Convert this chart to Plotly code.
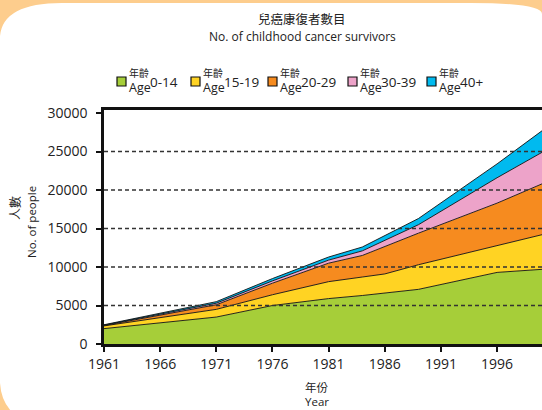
import plotly.graph_objects as go

# ---------------- data ----------------
years = [1961, 1971, 1976, 1981, 1984, 1986, 1989, 1996, 2000]
age_0_14 = [2000, 3500, 5000, 5900, 6300, 6600, 7100, 9300, 9700]
age_15_19 = [350, 1000, 1400, 2200, 2400, 2500, 3200, 3500, 4500]
age_20_29 = [50, 600, 1500, 2400, 2800, 3600, 4100, 5500, 6600]
age_30_39 = [50, 200, 300, 400, 600, 800, 1100, 3300, 4100]
age_40_plus = [50, 200, 300, 400, 500, 600, 800, 1800, 2800]

series_ranges = ["0-14", "15-19", "20-29", "30-39", "40+"]
series_values = [age_0_14, age_15_19, age_20_29, age_30_39, age_40_plus]
series_colors = ["#A6CE39", "#FFD323", "#F68B1F", "#EDA3C9", "#00BAEF"]

x_ticks = [1961, 1966, 1971, 1976, 1981, 1986, 1991, 1996]
y_ticks = [0, 5000, 10000, 15000, 20000, 25000, 30000]
y_tick_labels = ["0", "5000", "10000", "15000", "20000", "25000", "30000"]
grid_values = [5000, 10000, 15000, 20000, 25000]

title_zh = "兒癌康復者數目"
title_en = "No. of childhood cancer survivors"
legend_zh = "年齡"
legend_en = "Age"
xtitle_zh, xtitle_en = "年份", "Year"
ytitle_zh, ytitle_en = "人數", "No. of people"

# ---------------- layout geometry (pixels) ----------------
W, H = 542, 410
ML, MR, MT, MB = 104, 0, 110, 66
PW, PH = W - ML - MR, H - MT - MB

def px(x):
    return (x - ML) / PW

def py(y):
    return (H - MB - y) / PH

FONT = "Open Sans, Noto Sans CJK TC, sans-serif"
CJK = "Noto Sans CJK TC, sans-serif"
PEACH = "#FDCD8D"

fig = go.Figure()
for name, vals, col in zip(series_ranges, series_values, series_colors):
    fig.add_trace(go.Scatter(
        x=years, y=vals, name=name, mode="lines",
        stackgroup="one", fillcolor=col,
        line=dict(color="#111111", width=0.9),
        showlegend=False, hoverinfo="skip",
    ))

shapes = []
# white rounded card over peach background
p = lambda x, y: f"{px(x):.5f},{py(y):.5f}"
card = (f"M{p(0,36)} Q{p(3,3)} {p(62,3)} L{p(470,3)} Q{p(542,3)} {p(542,14)} "
        f"L{p(543,411)} L{p(11,411)} Q{p(1,400)} {p(0,383)} Z")
shapes.append(dict(type="path", path=card, xref="paper", yref="paper",
                   fillcolor="white", line=dict(width=0), layer="below"))
# dashed gridlines drawn above the areas
for g in grid_values:
    shapes.append(dict(type="line", xref="paper", yref="y", x0=0, x1=1, y0=g, y1=g,
                       line=dict(color="#333333", width=1.4, dash="4px,3px"), layer="above"))

annotations = [
    dict(text=title_zh, x=px(302), y=py(18), xref="paper", yref="paper", showarrow=False,
         font=dict(family=CJK, size=12.5, color="#222"), xanchor="center", yanchor="middle"),
    dict(text=title_en, x=px(302), y=py(36), xref="paper", yref="paper", showarrow=False,
         font=dict(family=FONT, size=12, color="#222"), xanchor="center", yanchor="middle"),
    dict(text=xtitle_zh, x=px(317), y=py(387), xref="paper", yref="paper", showarrow=False,
         font=dict(family=CJK, size=11.5, color="#222"), xanchor="center", yanchor="middle"),
    dict(text=xtitle_en, x=px(317), y=py(401.5), xref="paper", yref="paper", showarrow=False,
         font=dict(family=FONT, size=11.5, color="#222"), xanchor="center", yanchor="middle"),
    dict(text=ytitle_zh, x=px(14), y=py(208), xref="paper", yref="paper", showarrow=False,
         textangle=-90, font=dict(family=CJK, size=12, color="#222"), xanchor="center", yanchor="middle"),
    dict(text=ytitle_en, x=px(31), y=py(222), xref="paper", yref="paper", showarrow=False,
         textangle=-90, font=dict(family=FONT, size=11.5, color="#222"), xanchor="center", yanchor="middle"),
]

# custom legend
legend_x = [117, 191, 268, 348, 427]
for lx, name, col in zip(legend_x, series_ranges, series_colors):
    shapes.append(dict(type="rect", xref="paper", yref="paper",
                       x0=px(lx), x1=px(lx + 9), y0=py(86), y1=py(77),
                       fillcolor=col, line=dict(color="#111", width=1.2)))
    annotations.append(dict(text=legend_zh, x=px(lx + 10), y=py(73), xref="paper", yref="paper",
                            showarrow=False, xanchor="left", yanchor="middle",
                            font=dict(family=CJK, size=10, color="#222")))
    annotations.append(dict(text=legend_en, x=px(lx + 10), y=py(88), xref="paper", yref="paper",
                            showarrow=False, xanchor="left", yanchor="middle",
                            font=dict(family=FONT, size=12.5, color="#222")))
    annotations.append(dict(text=name, x=px(lx + 31), y=py(82), xref="paper", yref="paper",
                            showarrow=False, xanchor="left", yanchor="middle",
                            font=dict(family=FONT, size=13.5, color="#222")))

fig.update_layout(
    width=W, height=H,
    margin=dict(l=ML, r=MR, t=MT, b=MB, pad=0),
    paper_bgcolor=PEACH, plot_bgcolor="rgba(0,0,0,0)",
    font=dict(family=FONT, color="#222"),
    shapes=shapes, annotations=annotations,
    xaxis=dict(range=[1961, 2000], tickvals=x_ticks, ticks="outside", ticklen=5, tickwidth=2,
               tickcolor="#111", showline=True, linecolor="#111", linewidth=2.5, mirror=True,
               showgrid=False, zeroline=False, tickfont=dict(size=14, color="#222")),
    yaxis=dict(range=[0, 30400], tickvals=y_ticks, ticktext=y_tick_labels, ticks="outside",
               ticklen=5, tickwidth=2, tickcolor="#111", showline=True, linecolor="#111",
               linewidth=2.5, showgrid=False, zeroline=False, ticklabelstandoff=6,
               tickfont=dict(size=14, color="#222")),
)

fig.write_html("out.html")
